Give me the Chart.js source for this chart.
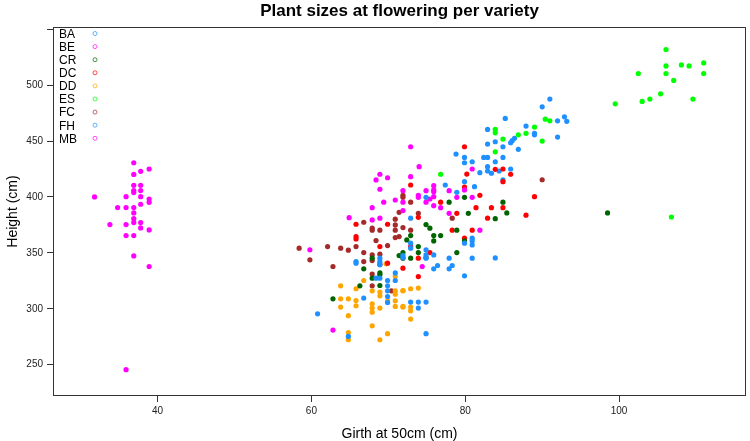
<!DOCTYPE html>
<html>
<head>
<meta charset="utf-8">
<script src="https://cdn.jsdelivr.net/npm/chart.js@4"></script>
<style>
  body { margin: 0; background: #fff; }
</style>
</head>
<body>
<canvas id="plantChart" width="750" height="441"></canvas>
<script>
// varieties (legend order) and their colours
const varieties = ['BA', 'BE', 'CR', 'DC', 'DD', 'ES', 'FC', 'FH', 'MB'];
const colors = ['#1E90FF', '#FF00FF', '#006400', '#FF0000', '#FFA500', '#00FF00', '#A52A2A', '#1E90FF', '#FF00FF'];

const xTicks = [40, 60, 80, 100];
const yTicks = [250, 300, 350, 400, 450, 500, 550];

// [girth, height] per plant
const BA = [[74.9,399.7],[72.9,381.0],[83.9,345.5],[71.9,347.6],[71.9,345.8],[65.8,342.2],[65.8,340.8],[68.9,345.3],[68.9,342.2],[68.9,339.3],[70.9,332.1],[69.9,325.3],[70.9,325.3],[68.4,327.4],[68.9,327.4],[69.9,320.5],[69.9,316.1],[66.8,309.6],[69.9,311.0],[69.9,305.6],[60.8,295.5],[64.8,275.3],[72.9,358.7],[72.9,354.2],[74.9,352.7],[74.9,348.2],[75.9,348.2],[74.9,345.3],[77.9,345.3],[80.9,345.3],[76.4,338.7],[75.9,335.7],[78.3,338.7],[77.9,335.7],[79.9,329.5],[80.9,363.1],[80.9,360.7],[79.9,358.7],[80.9,357.1],[72.9,306.0],[73.9,306.0],[74.9,306.0],[73.9,300.6],[74.9,277.7]];
const BE = [[72.9,444.9],[74.0,427.1],[68.9,420.3],[68.4,415.2],[69.9,417.2],[68.9,406.9],[71.9,405.6],[70.9,397.3],[69.4,395.3],[71.9,395.3],[67.9,390.4],[71.9,387.8],[64.9,381.5],[68.9,381.0],[67.9,379.5],[80.9,425.0],[72.9,418.1],[79.9,406.3],[77.9,405.6],[75.9,410.1],[75.9,406.3],[75.9,404.7],[74.9,405.6],[73.9,401.5],[73.9,399.7],[75.4,398.2],[75.9,400.3],[78.9,399.7],[80.9,399.7],[74.9,395.3],[75.9,392.2],[76.8,390.4],[77.9,385.4],[81.9,370.3],[74.4,337.8],[59.8,352.7],[62.8,281.0]];
const CR = [[98.5,385.7],[85.4,385.7],[84.9,395.3],[83.9,380.6],[79.9,399.7],[77.9,395.3],[80.4,385.4],[78.9,370.3],[79.9,360.7],[74.9,375.3],[75.4,372.1],[75.9,365.5],[76.8,365.5],[75.9,360.7],[72.9,365.5],[72.4,361.6],[73.9,355.6],[73.9,350.3],[71.9,350.3],[71.9,345.3],[72.9,345.3],[74.9,345.8],[78.9,350.3],[71.4,347.6],[67.9,345.3],[66.8,335.7],[68.9,332.1],[68.9,330.4],[67.9,327.4],[68.9,320.8],[66.3,320.5],[62.8,308.9]];
const DC = [[89.0,400.3],[87.9,383.7],[85.9,420.3],[79.9,444.9],[83.9,424.7],[84.9,425.0],[84.9,413.7],[80.2,420.5],[72.9,410.7],[79.9,408.9],[81.9,401.5],[76.8,395.3],[81.4,390.4],[83.4,390.4],[84.9,390.4],[78.9,385.4],[82.9,381.0],[73.9,381.8],[65.8,375.6],[69.9,375.6],[65.8,364.6],[65.8,362.5],[68.9,355.6],[69.9,340.8],[71.9,336.3],[78.3,370.3],[80.9,370.3],[79.9,363.1],[72.9,355.6],[75.4,350.3],[73.9,345.3],[73.9,328.8]];
const DD = [[69.7,340.2],[70.9,328.8],[66.8,325.3],[63.8,320.5],[68.9,314.9],[68.9,311.6],[70.9,316.1],[70.9,313.1],[71.9,316.1],[67.9,316.1],[65.8,317.9],[63.8,308.9],[64.8,308.9],[63.8,301.5],[65.8,307.4],[65.8,302.7],[67.9,304.5],[67.9,300.6],[67.9,297.0],[68.9,300.6],[69.9,307.1],[70.9,307.1],[70.9,302.1],[71.9,302.1],[64.8,293.8],[67.9,284.8],[64.8,278.8],[64.8,272.3],[68.9,272.3],[69.9,277.7],[71.9,316.3],[72.9,317.9],[73.9,318.5],[71.9,301.5],[72.9,301.5],[72.9,298.2],[72.9,290.8]];
const ES = [[106.1,531.9],[106.1,517.2],[108.1,518.1],[109.1,517.2],[111.0,519.9],[102.5,510.4],[106.1,510.4],[111.0,510.4],[107.1,504.2],[105.4,492.2],[104.0,487.5],[103.0,485.4],[99.5,483.3],[109.6,487.5],[106.8,382.1],[90.4,469.6],[91.0,468.1],[89.0,462.5],[87.9,456.9],[86.9,455.6],[90.0,450.0],[83.9,460.4],[83.9,457.4],[84.9,451.8],[83.9,440.4],[76.8,420.3]];
const FC = [[90.0,415.4],[71.9,401.5],[71.9,399.7],[72.9,395.3],[71.4,386.3],[73.9,385.4],[78.3,381.0],[70.9,380.1],[66.8,377.4],[67.9,372.1],[67.9,370.3],[68.9,370.3],[70.9,375.0],[70.9,370.3],[71.9,372.6],[72.9,370.3],[71.4,364.6],[70.9,363.7],[68.4,361.0],[69.9,356.5],[58.4,354.2],[62.1,355.6],[63.8,354.2],[64.8,352.4],[65.8,355.6],[66.8,350.3],[67.9,348.2],[68.9,348.8],[59.8,343.8],[66.8,342.2],[67.9,343.1],[68.9,339.9],[62.8,337.8],[67.9,331.0],[67.9,320.5],[70.4,316.1]];
const FH = [[85.2,470.2],[87.9,463.4],[82.9,460.4],[86.4,452.4],[86.1,450.3],[85.9,448.5],[83.9,449.4],[84.9,444.9],[82.9,447.3],[86.9,442.6],[78.8,438.4],[79.9,435.4],[79.9,430.6],[80.9,431.5],[82.4,435.4],[82.9,435.4],[84.9,435.4],[83.9,431.5],[82.9,427.1],[82.9,423.2],[81.9,421.7],[83.4,421.2],[84.4,423.2],[85.9,425.0],[84.9,415.2],[79.9,413.7],[77.4,410.7],[81.2,409.2],[78.9,404.2],[91.0,487.5],[90.0,480.6],[92.9,471.7],[93.2,467.6],[92.0,468.1],[89.0,456.9],[89.0,455.6],[92.0,453.6]];
const MB = [[36.9,430.6],[37.8,422.9],[38.9,425.0],[36.9,420.2],[36.9,410.4],[37.8,410.4],[36.9,405.7],[37.8,405.7],[36.9,403.9],[35.9,400.3],[37.8,400.3],[38.9,398.2],[38.9,395.2],[37.8,393.5],[34.8,390.5],[35.9,390.5],[36.9,390.5],[36.9,385.7],[36.9,380.6],[36.9,377.1],[37.8,377.1],[33.8,375.3],[35.9,375.3],[37.8,372.3],[38.9,370.5],[35.9,365.5],[36.9,365.5],[36.9,347.3],[38.9,337.8],[35.9,245.5],[31.8,400.0]];

const seriesData = [BA, BE, CR, DC, DD, ES, FC, FH, MB];
const FONT = '"Liberation Sans", Arial, sans-serif';

// title, axis titles, box and the legend are drawn by hand
const decorations = {
  id: 'decorations',
  afterDraw(chart) {
    const ctx = chart.ctx;
    const a = chart.chartArea;
    ctx.save();
    ctx.strokeStyle = '#333';
    ctx.lineWidth = 1;
    ctx.strokeRect(a.left + 0.5, a.top + 0.5, a.right - a.left - 1, a.bottom - a.top - 1);

    ctx.fillStyle = '#000';
    ctx.textAlign = 'center';
    ctx.textBaseline = 'middle';
    ctx.font = 'bold 17px ' + FONT;
    ctx.fillText('Plant sizes at flowering per variety', (a.left + a.right) / 2, 11);

    ctx.font = '14px ' + FONT;
    ctx.fillText('Girth at 50cm (cm)', (a.left + a.right) / 2, 434);
    ctx.save();
    ctx.translate(13, (a.top + a.bottom) / 2);
    ctx.rotate(-Math.PI / 2);
    ctx.fillText('Height (cm)', 0, 0);
    ctx.restore();

    // legend
    ctx.font = '12px ' + FONT;
    ctx.textAlign = 'left';
    varieties.forEach((name, i) => {
      const y = 34.5 + i * 13.1;
      ctx.fillStyle = '#000';
      ctx.fillText(name, 59, y);
      ctx.beginPath();
      ctx.arc(95, y - 1, 2, 0, Math.PI * 2);
      ctx.strokeStyle = colors[i];
      ctx.globalAlpha = 0.7;
      ctx.stroke();
      ctx.globalAlpha = 1;
    });
    ctx.restore();
  }
};

new Chart(document.getElementById('plantChart').getContext('2d'), {
  type: 'scatter',
  data: {
    datasets: varieties.map((name, i) => ({
      label: name,
      data: seriesData[i].map(p => ({ x: p[0], y: p[1] })),
      backgroundColor: colors[i],
      borderWidth: 0,
      pointRadius: 2.6,
      pointStyle: 'circle'
    }))
  },
  options: {
    responsive: false,
    animation: false,
    layout: { padding: { left: 0, right: 2, top: 27, bottom: 0 } },
    plugins: {
      legend: { display: false },
      title: { display: false },
      tooltip: { enabled: false }
    },
    scales: {
      x: {
        type: 'linear',
        min: 26.4,
        max: 116.5,
        afterBuildTicks: axis => { axis.ticks = xTicks.map(v => ({ value: v })); },
        afterFit: scale => { scale.height = 45; },
        border: { display: false },
        grid: { drawOnChartArea: false, drawTicks: true, tickLength: 6, tickColor: '#333' },
        ticks: { color: '#222', padding: 3, font: { family: FONT, size: 10 } }
      },
      y: {
        type: 'linear',
        min: 222,
        max: 552,
        afterBuildTicks: axis => { axis.ticks = yTicks.map(v => ({ value: v })); },
        afterFit: scale => { scale.width = 53; },
        border: { display: false },
        grid: { drawOnChartArea: false, drawTicks: true, tickLength: 6, tickColor: '#333' },
        ticks: {
          color: '#222',
          padding: 4,
          font: { family: FONT, size: 10 },
          callback: v => (v === 550 ? '' : v)
        }
      }
    }
  },
  plugins: [decorations]
});
</script>
</body>
</html>
